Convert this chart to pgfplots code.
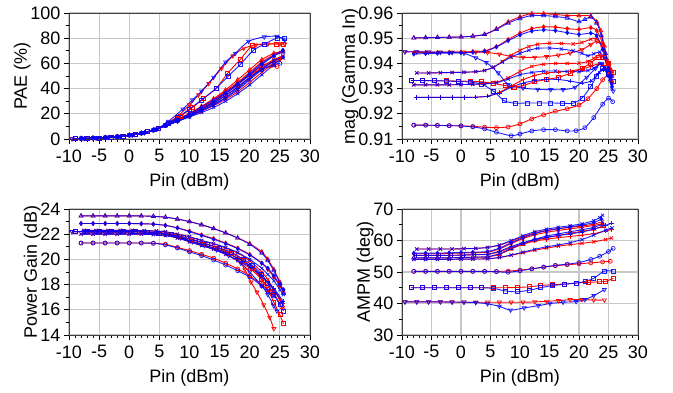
\documentclass[border=0pt]{standalone}
\usepackage{fontspec}
\setmainfont{Liberation Sans}
\usepackage{pgfplots}
\pgfplotsset{compat=1.18}
\pgfplotsset{
 myax/.style={scale only axis, xmin=-10, xmax=30, xtick={-10,-5,...,30},
  minor x tick num=4, minor y tick num=1, grid=major,
  major grid style={black!22, line width=1.1pt},
  axis line style={black!75, line width=0.9pt},
  tick align=outside, tick pos=left, major tick length=5pt, minor tick length=3pt,
  every tick/.style={black, line width=0.9pt},
  /pgf/number format/assume math mode=true,
  tick label style={font=\fontsize{18}{21}\selectfont},
  xticklabel style={yshift=-2pt},
  label style={font=\fontsize{18}{21}\selectfont},
  xlabel={Pin (dBm)}, xlabel style={yshift=-4pt},
  ylabel style={yshift=-7pt},
  clip=true},
 R/.style={color=red, line width=0.9pt, smooth, tension=0.45, mark size=2.3pt, mark options={solid, red, line width=0.7pt}},
 B/.style={color=blue, opacity=0.88, line width=0.9pt, smooth, tension=0.45, mark size=2.3pt, mark options={solid, blue, line width=0.7pt}},
 mt/.style={mark=triangle},
 md/.style={mark=diamond*, mark size=2pt},
 mv/.style={mark=triangle, every mark/.append style={rotate=180}},
 ms/.style={mark=square, mark size=2pt},
 mx/.style={mark=x},
 mp/.style={mark=+},
 mo/.style={mark=o, mark size=2pt},
}
\begin{document}
\begin{tikzpicture}
\path[use as bounding box] (0,0) rectangle (673pt,392pt);
% ---------------- PAE
\begin{axis}[myax, at={(69pt,253pt)}, anchor=south west, width=241pt, height=126pt,
 ymin=0, ymax=100, ytick={0,20,...,100}, ylabel={PAE (\%)}]
\addplot[R,mt] coordinates {(-8,0.4)(-6,0.7)(-4,1.1)(-2,1.8)(0,3)(2,4.6)(4,7)(6,11)(8,15.5)(10,20.5)(12,26)(14,32)(16,39)(18,47)(20,55)(22,63)(24,68)(25.5,69.5)};
\addplot[R,md] coordinates {(-8,0.4)(-6,0.7)(-4,1.1)(-2,1.8)(0,3)(2,4.6)(4,7)(6,10.8)(8,15)(10,20)(12,25)(14,31)(16,38)(18,45)(20,53)(22,61)(24,67)(25.5,70)};
\addplot[R,mx] coordinates {(-7.5,0.5)(-5.5,0.8)(-3.5,1.3)(-1.5,2)(0.5,3.2)(2.5,5)(4.5,7.6)(6,10.5)(8,14.5)(10,19)(12,23.5)(14,28.5)(16,34.5)(18,41)(20,49)(22,57)(24,63)(25.5,66)};
\addplot[R,mx] coordinates {(-8,0.4)(-6,0.7)(-4,1.1)(-2,1.8)(0,3)(2,4.6)(4,7)(6,10.5)(8,14)(10,18)(12,22)(14,26.5)(16,31.5)(18,37.5)(20,45)(22,53)(24,60)(25.5,64)};
\addplot[R,mp] coordinates {(-7.5,0.5)(-5.5,0.8)(-3.5,1.3)(-1.5,2)(0.5,3.2)(2.5,5)(4.5,7.6)(6,10.6)(8,14.5)(10,19)(12,24)(14,29.5)(16,36)(18,43.5)(20,51)(22,58)(24,62)(25,63)};
\addplot[R,mo] coordinates {(-8,0.4)(-6,0.7)(-4,1.1)(-2,1.8)(0,3)(2,4.6)(4,7)(6,10.8)(8,15)(10,19.5)(12,24.5)(14,30)(16,36.5)(18,44)(20,51)(22,56)(23.5,58)(24.5,57.5)};
\addplot[R,mv] coordinates {(-9.5,0.2)(-7.5,0.5)(-5.5,0.8)(-3.5,1.3)(-1.5,2)(0.5,3.2)(2.5,5)(4.5,7.8)(6,11.5)(8,18)(10,27)(11.5,35)(13.2,44)(15.3,56)(17.2,66)(19,72)(21,74.5)(23,75.3)(25,75.5)(25.8,75.3)};
\addplot[R,ms] coordinates {(-9,0.3)(-7,0.5)(-5,0.9)(-3,1.5)(-1,2.4)(1,3.8)(3,5.8)(4.8,8.5)(6.5,12.5)(8.5,18)(10.5,25)(12.3,32)(14.5,40.5)(16.3,52)(18.4,63)(20.4,74)(22.5,75.4)(24.4,75.4)(25.6,75.3)};
\addplot[B,mt] coordinates {(-8,0.4)(-6,0.7)(-4,1.1)(-2,1.8)(0,3)(2,4.6)(4,7)(6,11)(8,15.5)(10,20)(12,25.5)(14,31)(16,37)(18,44)(20,52)(22,60)(24,66)(25.5,69)};
\addplot[B,md] coordinates {(-8,0.4)(-6,0.7)(-4,1.1)(-2,1.8)(0,3)(2,4.6)(4,7)(6,10.8)(8,15)(10,19.5)(12,24)(14,29.5)(16,36)(18,43)(20,51)(22,59)(24,66)(25.5,70.5)};
\addplot[B,mx] coordinates {(-7.5,0.5)(-5.5,0.8)(-3.5,1.3)(-1.5,2)(0.5,3.2)(2.5,5)(4.5,7.6)(6,10.5)(8,14.5)(10,18.5)(12,22.5)(14,27)(16,32.5)(18,39)(20,47)(22,55)(24,62)(25.5,65.5)};
\addplot[B,mx] coordinates {(-8,0.4)(-6,0.7)(-4,1.1)(-2,1.8)(0,3)(2,4.6)(4,7)(6,10.3)(8,14)(10,17.5)(12,21)(14,25)(16,30)(18,36)(20,43)(22,51)(24,59)(25.5,64.5)};
\addplot[B,mp] coordinates {(-7.5,0.5)(-5.5,0.8)(-3.5,1.3)(-1.5,2)(0.5,3.2)(2.5,5)(4.5,7.6)(6,10.4)(8,14)(10,18)(12,22.5)(14,27.5)(16,33)(18,40)(20,48)(22,56)(24,62)(25.5,65)};
\addplot[B,mo] coordinates {(-8,0.4)(-6,0.7)(-4,1.1)(-2,1.8)(0,3)(2,4.6)(4,7)(6,10.8)(8,15)(10,19)(12,23.5)(14,28.5)(16,34.5)(18,41.5)(20,49)(22,55)(24,59)(25,60)};
\addplot[B,mv] coordinates {(-9.5,0.2)(-7.5,0.5)(-5.5,0.8)(-3.5,1.3)(-1.5,2)(0.5,3.2)(2.5,5)(4.5,7.8)(6.5,14)(8.9,23.8)(10.5,31)(12,38)(14,49)(16,61)(17.6,68)(19.8,77.5)(22.4,81)(24.5,81.5)(25.8,78.5)};
\addplot[B,ms] coordinates {(-9,0.3)(-7,0.5)(-5,0.9)(-3,1.5)(-1,2.4)(1,3.8)(3,5.8)(4.8,8.5)(6.5,12.5)(8,17)(9.9,23.5)(12,31)(14.4,40.2)(16.4,49.7)(18.5,59.5)(20.6,70.4)(22.5,75.4)(24.5,80.2)(25.8,80)};
\end{axis}
% ---------------- Gamma
\begin{axis}[myax, at={(402pt,253pt)}, anchor=south west, width=236pt, height=126pt,
 ymin=0.91, ymax=0.96, ytick={0.91,0.92,...,0.961}, ylabel={mag (Gamma In)},
 yticklabel style={/pgf/number format/.cd, fixed, fixed zerofill, precision=2}]
\addplot[R,mt] coordinates {(-8,0.9501)(-6,0.9502)(-4,0.9503)(-2,0.9504)(0,0.9505)(2,0.9508)(4,0.9515)(6,0.9537)(8,0.9565)(10,0.9585)(12,0.9598)(14,0.9598)(16,0.9594)(18,0.9590)(20,0.9590)(22,0.9588)(23,0.9565)(23.7,0.953)(24.3,0.947)(25,0.940)(25.5,0.937)};
\addplot[R,md] coordinates {(-8,0.9442)(-6,0.9443)(-4,0.9443)(-2,0.9444)(0,0.9445)(2,0.9447)(4,0.9450)(6,0.9467)(8,0.9495)(10,0.9520)(12,0.9538)(14,0.9545)(16,0.9544)(18,0.9538)(20,0.9535)(22,0.9542)(23,0.9530)(24,0.9480)(25,0.9400)(25.5,0.937)};
\addplot[R,mv] coordinates {(-9.5,0.9446)(-7.5,0.9446)(-5.5,0.9445)(-3.5,0.9445)(-1.5,0.9445)(0.5,0.9445)(2.5,0.9445)(4.5,0.9443)(6.5,0.9437)(8.5,0.9428)(10.5,0.9424)(12.5,0.9424)(14.5,0.9427)(16.5,0.9433)(18.5,0.9441)(20.5,0.9455)(22,0.9475)(23,0.9488)(24,0.9465)(25,0.939)(25.5,0.936)};
\addplot[R,ms] coordinates {(-8.5,0.9332)(-6.5,0.9332)(-4.5,0.9331)(-2.5,0.9331)(-0.5,0.9330)(1.5,0.9329)(3.5,0.9327)(5.5,0.9321)(7.5,0.9312)(9,0.9306)(10.5,0.9312)(12.5,0.9327)(14.5,0.9336)(16.5,0.9345)(18.5,0.9360)(20.5,0.9380)(22,0.9402)(23.3,0.9425)(24.2,0.9425)(25,0.940)(25.8,0.9365)};
\addplot[R,mx] coordinates {(-7.5,0.9362)(-5.5,0.9362)(-3.5,0.9363)(-1.5,0.9364)(0.5,0.9365)(2.5,0.9367)(4,0.9372)(5.5,0.9385)(7,0.9408)(8.5,0.9432)(10,0.9452)(11.5,0.9467)(13,0.9476)(15,0.9480)(17,0.9479)(19,0.9477)(20.5,0.9483)(22,0.9496)(23,0.9498)(24,0.9470)(24.8,0.941)(25.5,0.936)};
\addplot[R,mx] coordinates {(-8,0.9315)(-6,0.9315)(-4,0.9315)(-2,0.9315)(0,0.9316)(2,0.9317)(4,0.9319)(6,0.9325)(8,0.9343)(10,0.9368)(12,0.9388)(14,0.9397)(16,0.9400)(18,0.9400)(20,0.9401)(21.5,0.9408)(22.5,0.9420)(23.5,0.9435)(24.3,0.9420)(25,0.9385)(25.6,0.9350)};
\addplot[R,mp] coordinates {(-7.5,0.9265)(-5.5,0.9265)(-3.5,0.9265)(-1.5,0.9265)(0.5,0.9265)(2.5,0.9266)(4.5,0.9270)(6.5,0.9285)(8.5,0.9310)(10.5,0.9335)(12.5,0.9352)(14.5,0.9362)(16.5,0.9366)(18.5,0.9370)(20.5,0.9378)(22,0.9388)(23.3,0.9398)(24.2,0.9392)(25,0.936)(25.6,0.9330)};
\addplot[R,mo] coordinates {(-8,0.9155)(-6,0.9155)(-4,0.9154)(-2,0.9153)(0,0.9152)(2,0.9150)(4,0.9147)(6,0.9145)(8,0.9148)(10,0.9160)(12,0.9180)(14,0.9196)(16,0.9210)(18,0.9220)(20,0.9235)(21.5,0.9260)(23,0.9300)(24,0.9335)(25,0.9355)(25.6,0.9350)};
\addplot[B,mt] coordinates {(-8,0.9501)(-6,0.9502)(-4,0.9503)(-2,0.9504)(0,0.9505)(2,0.9508)(4,0.9515)(6,0.9535)(8,0.9560)(10,0.9578)(12,0.9590)(14,0.9590)(16,0.9586)(18,0.9580)(20,0.9566)(21,0.9575)(22,0.9584)(23,0.9560)(23.8,0.951)(24.5,0.944)(25.3,0.935)};
\addplot[B,md] coordinates {(-8,0.9437)(-6,0.9439)(-4,0.9440)(-2,0.9441)(0,0.9442)(2,0.9444)(4,0.9448)(6,0.9465)(8,0.9490)(10,0.9513)(12,0.9528)(14,0.9533)(16,0.9530)(18,0.9522)(20,0.9515)(22,0.9520)(23,0.9510)(24,0.9455)(25,0.938)(25.5,0.935)};
\addplot[B,mv] coordinates {(-9.5,0.9446)(-7.5,0.9446)(-5.5,0.9445)(-3.5,0.9444)(-1.5,0.9443)(0.5,0.9440)(2.5,0.9422)(4.3,0.9403)(6.3,0.9362)(8,0.9316)(10.5,0.9302)(13,0.9297)(15.2,0.9296)(17.3,0.9296)(19.3,0.9305)(21.3,0.9345)(22.8,0.9380)(23.8,0.9400)(24.6,0.938)(25.3,0.933)(25.8,0.929)};
\addplot[B,ms] coordinates {(-8.5,0.9332)(-6.5,0.9332)(-4.5,0.9331)(-2.5,0.9330)(-0.5,0.9328)(1.5,0.9326)(3.5,0.9318)(5.5,0.9290)(7.3,0.9252)(9.2,0.9242)(11.2,0.9243)(13.2,0.9243)(15.2,0.9243)(17.2,0.9242)(19,0.9242)(20.5,0.9262)(22,0.9308)(23,0.9350)(24,0.9380)(25,0.936)(25.8,0.9330)};
\addplot[B,mx] coordinates {(-7.5,0.9362)(-5.5,0.9362)(-3.5,0.9363)(-1.5,0.9364)(0.5,0.9365)(2.5,0.9367)(4,0.9372)(5.5,0.9385)(7,0.9405)(8.5,0.9425)(10,0.9440)(11.5,0.9452)(13,0.9460)(15,0.9461)(17,0.9457)(19,0.9450)(20.5,0.9440)(21.5,0.9430)(22.5,0.9438)(23.5,0.9445)(24.3,0.942)(25,0.937)(25.6,0.932)};
\addplot[B,mx] coordinates {(-8,0.9315)(-6,0.9315)(-4,0.9315)(-2,0.9315)(0,0.9316)(2,0.9317)(4,0.9319)(6,0.9323)(8,0.9338)(10,0.9355)(12,0.9364)(14,0.9369)(16,0.9370)(18,0.9368)(20,0.9367)(21.5,0.9372)(22.5,0.9380)(23.5,0.9398)(24.3,0.9385)(25,0.935)(25.6,0.930)};
\addplot[B,mp] coordinates {(-7.5,0.9265)(-5.5,0.9265)(-3.5,0.9265)(-1.5,0.9265)(0.5,0.9265)(2.5,0.9266)(4.5,0.9270)(6.5,0.9283)(8.5,0.9305)(10.5,0.9322)(12.5,0.9332)(14.5,0.9337)(16.5,0.9336)(18.5,0.9330)(20.5,0.9322)(22,0.9330)(23.3,0.9360)(24.2,0.9375)(25,0.935)(25.6,0.931)};
\addplot[B,mo] coordinates {(-8,0.9155)(-6,0.9155)(-4,0.9154)(-2,0.9153)(0,0.9152)(2,0.9148)(4,0.9140)(6,0.9127)(8.5,0.9113)(10,0.9120)(12,0.9132)(14,0.9137)(16,0.9137)(18,0.9132)(19.5,0.9133)(21,0.9145)(22.5,0.9185)(24,0.9238)(25,0.9262)(25.7,0.9248)};
\end{axis}
% ---------------- Gain
\begin{axis}[myax, at={(69pt,57pt)}, anchor=south west, width=241pt, height=126pt,
 ymin=14, ymax=24, ytick={14,16,...,24}, ylabel={Power Gain (dB)}]
\addplot[R,mt] coordinates {(-8,23.45)(-6,23.45)(-4,23.45)(-2,23.45)(0,23.45)(2,23.45)(4,23.42)(6,23.35)(8,23.2)(10,23.0)(12,22.75)(14,22.45)(16,22.1)(18,21.7)(20,21.25)(22,20.6)(23,20.0)(24,19.2)(25,18.2)(25.6,17.4)};
\addplot[R,md] coordinates {(-8,22.85)(-6,22.85)(-4,22.85)(-2,22.85)(0,22.85)(2,22.83)(4,22.8)(6,22.7)(8,22.5)(10,22.25)(12,21.95)(14,21.65)(16,21.3)(18,20.9)(20,20.4)(22,19.7)(23,19.2)(24,18.6)(25,17.9)(25.6,17.5)};
\addplot[R,mv] coordinates {(-9.5,22.2)(-7.5,22.2)(-5.5,22.2)(-3.5,22.2)(-1.5,22.2)(0.5,22.2)(2.5,22.18)(4.5,22.15)(6.5,22.05)(8.5,21.85)(10.5,21.55)(12.5,21.25)(14.5,20.95)(16.5,20.5)(18,20.0)(19.2,19.2)(20.2,18.2)(21.2,17.4)(22.3,16.4)(23.3,15.4)(24,14.5)};
\addplot[R,ms] coordinates {(-9,22.2)(-7,22.2)(-5,22.2)(-3,22.2)(-1,22.2)(1,22.2)(3,22.17)(5,22.1)(7,21.95)(9,21.75)(11,21.5)(13,21.2)(15,20.9)(17,20.5)(19,19.9)(20.5,19.3)(22,18.4)(23,17.6)(24,16.6)(25,15.6)(25.6,14.9)};
\addplot[R,mx] coordinates {(-7.5,22.3)(-5.5,22.3)(-3.5,22.3)(-1.5,22.3)(0.5,22.3)(2.5,22.28)(4.5,22.25)(6,22.2)(8,22.0)(10,21.8)(12,21.5)(14,21.25)(16,20.9)(18,20.5)(20,19.9)(22,19.0)(23,18.4)(24,17.6)(25,16.8)(25.6,16.2)};
\addplot[R,mx] coordinates {(-8,22.0)(-6,22.0)(-4,22.0)(-2,22.0)(0,22.0)(2,22.0)(4,21.97)(6,21.9)(8,21.7)(10,21.4)(12,21.1)(14,20.8)(16,20.4)(18,19.9)(20,19.3)(22,18.4)(24,17.3)(25.3,16.2)};
\addplot[R,mp] coordinates {(-7.5,22.1)(-5.5,22.1)(-3.5,22.1)(-1.5,22.1)(0.5,22.1)(2.5,22.08)(4.5,22.05)(6,22.0)(8,21.8)(10,21.5)(12,21.2)(14,20.9)(16,20.55)(18,20.1)(20,19.5)(22,18.7)(24,17.6)(25.5,16.5)};
\addplot[R,mo] coordinates {(-8,21.3)(-6,21.3)(-4,21.3)(-2,21.3)(0,21.3)(2,21.3)(4,21.28)(6,21.2)(8,20.95)(10,20.7)(12,20.4)(14,20.1)(16,19.7)(18,19.25)(20,18.7)(22,18.0)(23.5,17.4)};
\addplot[B,mt] coordinates {(-8,23.45)(-6,23.45)(-4,23.45)(-2,23.45)(0,23.45)(2,23.45)(4,23.42)(6,23.35)(8,23.2)(10,23.0)(12,22.75)(14,22.45)(16,22.1)(18,21.7)(20,21.2)(22,20.5)(23,19.9)(24,19.1)(25,18.1)(25.6,17.3)};
\addplot[B,md] coordinates {(-8,22.85)(-6,22.85)(-4,22.85)(-2,22.85)(0,22.85)(2,22.83)(4,22.8)(6,22.7)(8,22.5)(10,22.2)(12,21.9)(14,21.6)(16,21.25)(18,20.85)(20,20.35)(22,19.7)(23,19.3)(24,18.7)(25,18.0)(25.6,17.6)};
\addplot[B,mv] coordinates {(-9.5,22.2)(-7.5,22.2)(-5.5,22.2)(-3.5,22.2)(-1.5,22.2)(0.5,22.2)(2.5,22.18)(4.5,22.12)(6.5,22.0)(8.5,21.7)(10.5,21.4)(12.5,21.1)(14.5,20.75)(16.5,20.3)(18.5,19.7)(20,19.0)(22,17.9)(23,17.2)(24,16.3)(24.5,15.9)};
\addplot[B,ms] coordinates {(-9,22.2)(-7,22.2)(-5,22.2)(-3,22.2)(-1,22.2)(1,22.2)(3,22.17)(5,22.1)(7,21.95)(9,21.75)(11,21.5)(13,21.2)(15,20.9)(17,20.55)(19,20.0)(20.5,19.5)(22,18.8)(23,18.1)(24,17.2)(25,16.4)(25.6,15.9)};
\addplot[B,mx] coordinates {(-7.5,22.3)(-5.5,22.3)(-3.5,22.3)(-1.5,22.3)(0.5,22.3)(2.5,22.28)(4.5,22.25)(6,22.2)(8,22.0)(10,21.8)(12,21.5)(14,21.25)(16,20.95)(18,20.55)(20,20.0)(22,19.3)(23,18.8)(24,18.3)(25,17.6)(25.6,17.2)};
\addplot[B,mx] coordinates {(-8,22.0)(-6,22.0)(-4,22.0)(-2,22.0)(0,22.0)(2,22.0)(4,21.97)(6,21.9)(8,21.7)(10,21.4)(12,21.1)(14,20.8)(16,20.4)(18,19.95)(20,19.4)(22,18.6)(24,17.6)(25.3,16.6)};
\addplot[B,mp] coordinates {(-7.5,22.1)(-5.5,22.1)(-3.5,22.1)(-1.5,22.1)(0.5,22.1)(2.5,22.08)(4.5,22.05)(6,22.0)(8,21.8)(10,21.5)(12,21.2)(14,20.9)(16,20.55)(18,20.1)(20,19.5)(22,18.7)(24,17.7)(25.5,16.7)};
\addplot[B,mo] coordinates {(-8,21.3)(-6,21.3)(-4,21.3)(-2,21.3)(0,21.3)(2,21.3)(4,21.28)(6,21.15)(8,20.9)(10,20.6)(12,20.3)(14,19.95)(16,19.55)(18,19.1)(20,18.6)(22,17.9)(23,17.5)(24,17.1)};
\end{axis}
% ---------------- AMPM
\begin{axis}[myax, at={(402pt,57pt)}, anchor=south west, width=236pt, height=126pt,
 ymin=30, ymax=70, ytick={30,40,...,70}, ylabel={AMPM (deg)}]
\addplot[R,mv] coordinates {(-9.5,40.5)(-7.5,40.5)(-5.5,40.5)(-3.5,40.5)(-1.5,40.5)(0.5,40.4)(2.5,40.4)(4.5,40.4)(6.5,40.4)(8.5,40.4)(10.5,40.4)(12.5,40.5)(14.5,40.7)(16.5,40.9)(18.5,41.2)(20.5,41.2)(22.5,41.1)(24.3,41.1)};
\addplot[R,ms] coordinates {(-8.5,45)(-6.5,45)(-4.5,45)(-2.5,45)(-0.5,45)(1.5,45)(3.5,45)(5.5,45)(7.5,45)(9.5,45.1)(11.5,45.3)(13.5,45.7)(15.5,46)(17.5,46.2)(19.5,46.5)(21.5,46.7)(23.5,46.9)(24.5,47)(25.8,48)};
\addplot[R,mo] coordinates {(-8,50.2)(-6,50.2)(-4,50.2)(-2,50.2)(0,50.2)(2,50.2)(4,50.2)(6,50.2)(8,50.3)(10,50.6)(12,51.0)(14,51.5)(16,52.0)(18,52.3)(20,52.6)(22,52.9)(24,53.2)(25.3,53.4)};
\addplot[R,mx] coordinates {(-7.5,57.3)(-5.5,57.3)(-3.5,57.3)(-1.5,57.3)(0.5,57.4)(2.5,57.5)(4.5,57.8)(6.5,58.5)(8.5,59.8)(10.5,61.2)(12.5,62.4)(14.5,63.2)(16.5,63.8)(18.5,64.2)(20.5,64.6)(22.5,65.2)(24,66)};
\addplot[R,md] coordinates {(-8,55.8)(-6,55.8)(-4,55.8)(-2,55.9)(0,56)(2,56.1)(4.5,56.3)(6.5,57.3)(8.5,59.0)(10.5,60.6)(12.5,61.8)(14.5,62.6)(16.5,63.2)(18.5,63.7)(20.5,64.2)(22.5,64.8)(24,65.3)};
\addplot[R,mt] coordinates {(-8,54.5)(-6,54.5)(-4,54.5)(-2,54.5)(0,54.6)(2,54.7)(4.5,54.8)(6.5,55.6)(8.5,57.3)(10.5,58.8)(12.5,60.0)(14.5,60.9)(16.5,61.6)(18.5,62.3)(20.5,62.9)(22.5,63.6)(24,64.5)};
\addplot[R,mp] coordinates {(-7.5,55.3)(-5.5,55.3)(-3.5,55.3)(-1.5,55.3)(0.5,55.4)(2.5,55.5)(4.5,55.6)(6.5,56.4)(8.5,57.8)(10.5,58.9)(12.5,59.8)(14.5,60.4)(16.5,60.9)(18.5,61.3)(20.5,61.7)(22.5,62.2)(24.5,63)(25.5,63.5)};
\addplot[R,mx] coordinates {(-8,54)(-6,54)(-4,54)(-2,54)(0,54.1)(2,54.1)(4.5,54.2)(6.5,54.6)(8.5,55.3)(10.5,56.1)(12.5,56.9)(14.5,57.6)(16.5,58.2)(18.5,58.7)(20.5,59.1)(22.5,59.6)(24.5,60.3)(25.5,60.8)};
\addplot[B,mv] coordinates {(-9.5,40.5)(-7.5,40.5)(-5.5,40.5)(-3.5,40.5)(-1.5,40.4)(0.5,40.4)(2.5,40.3)(4.5,39.9)(6.5,39.1)(8.4,37.9)(10.7,38.6)(13.1,39.3)(15.1,40.0)(17.3,40.4)(19.5,40.6)(21,41.2)(22.5,42.5)(24.3,44.4)};
\addplot[B,ms] coordinates {(-8.5,45)(-6.5,45)(-4.5,45)(-2.5,45)(-0.5,45)(1.5,45)(3.5,45)(5.5,44.8)(7.5,44)(9.5,43.7)(11.5,44.2)(13.5,45)(15.5,45.7)(17.5,46.1)(19.5,46.5)(21,47)(22.5,48.0)(24.3,50.3)(25.8,50.3)};
\addplot[B,mo] coordinates {(-8,50.2)(-6,50.2)(-4,50.2)(-2,50.2)(0,50.2)(2,50.2)(4,50.2)(6,50.1)(8,49.9)(10,50.4)(12,51)(14,51.6)(16,52.1)(18,52.5)(20,53.0)(22,54.0)(23.5,55.0)(25,56.5)(25.8,57.5)};
\addplot[B,mx] coordinates {(-7.5,57.3)(-5.5,57.3)(-3.5,57.3)(-1.5,57.3)(0.5,57.4)(2.5,57.5)(4.5,57.8)(6.5,58.6)(8.5,60.0)(10.5,61.5)(12.5,62.8)(14.5,63.6)(16.5,64.2)(18.5,64.7)(20.5,65.3)(22.5,66.3)(23.5,67.3)(24,68)};
\addplot[B,md] coordinates {(-8,56)(-6,56)(-4,56)(-2,56.1)(0,56.2)(2,56.3)(4.5,56.5)(6.5,57.6)(8.5,59.3)(10.5,60.9)(12.5,62.2)(14.5,63.1)(16.5,63.7)(18.5,64.3)(20.5,64.9)(22.5,65.7)(23.8,66.8)};
\addplot[B,mt] coordinates {(-8,54.5)(-6,54.5)(-4,54.5)(-2,54.5)(0,54.6)(2,54.7)(4.5,54.9)(6.5,55.8)(8.5,57.5)(10.5,59.1)(12.5,60.4)(14.5,61.4)(16.5,62.1)(18.5,62.8)(20.5,63.4)(22.5,64.2)(24,65.2)};
\addplot[B,mp] coordinates {(-7.5,55.3)(-5.5,55.3)(-3.5,55.3)(-1.5,55.3)(0.5,55.4)(2.5,55.5)(4.5,55.7)(6.5,56.6)(8.5,58.1)(10.5,59.3)(12.5,60.3)(14.5,61.0)(16.5,61.6)(18.5,62.1)(20.5,62.7)(22.5,63.6)(24.5,64.8)(25.5,65.5)};
\addplot[B,mx] coordinates {(-8,54)(-6,54)(-4,54)(-2,54)(0,54.1)(2,54.1)(4.5,54.2)(6.5,54.6)(8.5,55.4)(10.5,56.3)(12.5,57.2)(14.5,58)(16.5,58.6)(18.5,59.3)(20.5,60.3)(22.5,61.7)(24.5,63.3)(25.6,64)};
\end{axis}
\end{tikzpicture}
\end{document}
